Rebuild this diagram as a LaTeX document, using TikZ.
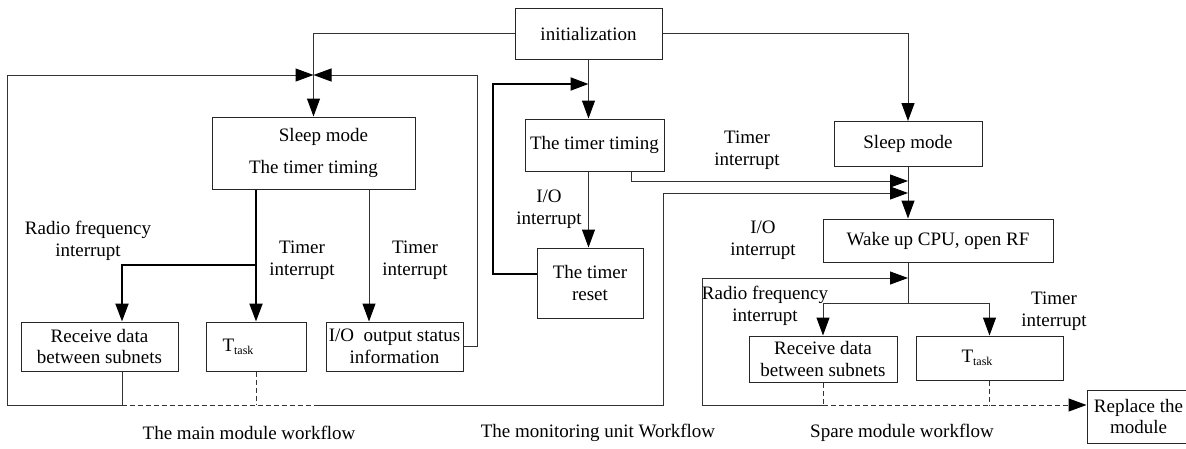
\documentclass[tikz,border=0pt]{standalone}
\usepackage{fontspec}
\setmainfont{Liberation Serif}
\usetikzlibrary{arrows.meta}
\newcommand\tsub[1]{\raisebox{-0.35ex}{\fontsize{12}{12}\selectfont #1}}
\begin{document}
\begin{tikzpicture}[x=1pt,y=-1pt,
  font=\fontsize{19}{21.5}\selectfont,
  box/.style={draw=black!85,line width=1pt,inner sep=0pt,align=center},
  lbl/.style={inner sep=0pt,align=center},
  ln/.style={draw=black!80,line width=1pt},
  thk/.style={draw=black,line width=2pt},
  arr/.style={-{Triangle[length=18pt,width=13pt,color=black]}},
  dsh/.style={dash pattern=on 5pt off 3pt}]
\useasboundingbox (0,0) rectangle (1186,448);

% boxes
\node[box,minimum width=147pt,minimum height=51pt] (init) at (588.5,33.5) {initialization};
\node[box,minimum width=203pt,minimum height=72pt] (msleep) at (313.5,153) {\hspace*{20pt}Sleep mode\\[10pt]The timer timing};
\node[box,minimum width=157pt,minimum height=49pt] (mrecv) at (99.5,346.5) {Receive data\\between subnets};
\node[box,minimum width=100pt,minimum height=49pt] (mtask) at (256,346.5) {\hspace*{-36pt}T\tsub{task}};
\node[box,minimum width=137pt,minimum height=49pt] (mio) at (394.5,346.5) {I/O\ \ output status\\information};
\node[box,minimum width=139pt,minimum height=52pt] (ttim) at (594.5,145) {The timer timing};
\node[box,minimum width=106pt,minimum height=70pt] (trst) at (590,283) {The timer\\reset};
\node[box,minimum width=148pt,minimum height=45pt] (ssleep) at (908,144) {Sleep mode};
\node[box,minimum width=230pt,minimum height=43pt] (wake) at (938,240.5) {Wake up CPU, open RF};
\node[box,minimum width=148pt,minimum height=46pt] (srecv) at (823,359) {Receive data\\between subnets};
\node[box,minimum width=147pt,minimum height=44pt] (stask) at (989.5,358) {\hspace*{-25pt}T\tsub{task}};
\node[box,minimum width=103pt,minimum height=53pt] (repl) at (1138.5,416.5) {Replace the\\module};

% labels
\node[lbl] (l1) at (88,241) {Radio frequency\\interrupt};
\node[lbl] (l2) at (302,260) {Timer\\interrupt};
\node[lbl] (l3) at (415,260) {Timer\\interrupt};
\node[lbl] (l4) at (549,209) {I/O\\interrupt};
\node[lbl] (l5) at (747,150) {Timer\\interrupt};
\node[lbl] (l6) at (763,240) {I/O\\interrupt};
\node[lbl] (l7) at (765,306) {Radio frequency\\interrupt};
\node[lbl] (l8) at (1054,311) {Timer\\interrupt};
\node[lbl] (c1) at (249,433) {The main module workflow};
\node[lbl] (c2) at (598,433) {The monitoring unit Workflow};
\node[lbl] (c3) at (902,433) {Spare module workflow};

% coordinates
\coordinate (mb) at (256,265);
\coordinate (mrx) at (122,265);
\coordinate (mx3) at (369,0);
\coordinate (mr) at (477,75);
\coordinate (mlb) at (7,405);
\coordinate (mlt) at (7,75);
\coordinate (mx) at (318,405);
\coordinate (mc) at (663,193);
\coordinate (mtop) at (493,84);
\coordinate (j1) at (908,181);
\coordinate (j2) at (908,193);
\coordinate (sb) at (908,303);
\coordinate (sl) at (702,405);
\coordinate (slt) at (702,278);

% initialization outputs
\draw[ln,arr] (init.west) -| (msleep.north);
\draw[ln,arr] (init.east) -| (ssleep.north);
\draw[ln,arr] (init.south) -- (init.south |- ttim.north);

% main module
\draw[thk,arr] (msleep.south -| mtask.north) -- (mtask.north);
\draw[thk,arr] (mb) -- (mrx) -- (mrx |- mrecv.north);
\draw[ln,arr] (msleep.south -| mx3) -- (mx3 |- mio.north);
\draw[ln,arr] (mio.east) -| (mr) -- (mr -| msleep.north);
\draw[ln,arr] (mrx |- mrecv.south) -- (mrx |- mlb) -- (mlb) -- (mlt) -- (mlt -| msleep.north);
\draw[ln,dsh] (mtask.south) -- (mtask.south |- mlb);
\draw[ln,dsh] (mrx |- mlb) -- (mx);
\draw[ln,arr] (mx) -| (mc) -- (j2);

% monitoring unit
\draw[ln,arr] (init.south |- ttim.south) -- (init.south |- trst.north);
\draw[thk,arr] ([yshift=9pt]trst.west) -| (mtop) -- (mtop -| init.south);
\draw[ln,arr] ([xshift=36.5pt]ttim.south) |- (j1);

% spare module
\draw[ln,arr] (ssleep.south) -- (ssleep.south |- wake.north);
\draw[ln] (ssleep.south |- wake.south) -- (sb);
\draw[ln,arr] (sb) -| (srecv.north);
\draw[ln,arr] (sb) -| (stask.north);
\draw[ln,arr] (srecv.south |- sl) -- (sl) -- (slt) -- (slt -| sb);
\draw[ln,dsh] (srecv.south) -- (srecv.south |- sl);
\draw[ln,dsh] (stask.south) -- (stask.south |- sl);
\draw[ln,dsh,arr] (srecv.south |- sl) -- (repl.west |- sl);
\end{tikzpicture}
\end{document}
